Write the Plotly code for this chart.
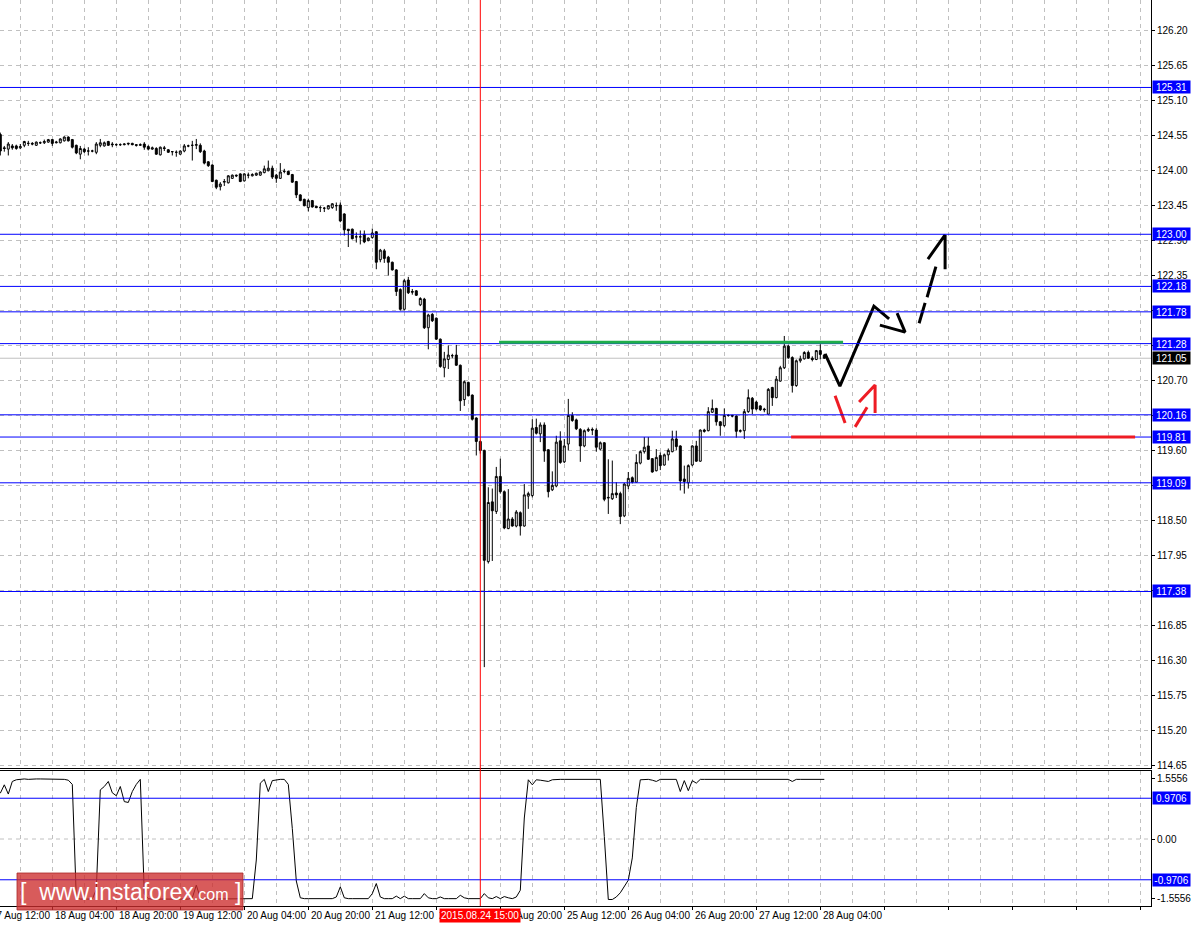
import plotly.graph_objects as go

# ---------------- data (H1 bars, index 0 = 2015.08.17 15:00, weekend skipped) ----------------
opens = [
    124.57, 124.36, 124.34, 124.39, 124.39, 124.36, 124.40, 124.43, 124.43, 124.40,
    124.44, 124.44, 124.45, 124.49, 124.44, 124.44, 124.47, 124.53, 124.49, 124.40,
    124.26, 124.34, 124.31, 124.31, 124.29, 124.40, 124.39, 124.46, 124.42, 124.41,
    124.41, 124.41, 124.42, 124.43, 124.41, 124.40, 124.42, 124.38, 124.34, 124.35,
    124.25, 124.36, 124.33, 124.30, 124.29, 124.26, 124.31, 124.39, 124.40, 124.40,
    124.40, 124.31, 124.14, 124.09, 123.85, 123.75, 123.82, 123.81, 123.88, 123.93,
    123.95, 123.84, 123.93, 123.92, 123.93, 123.93, 123.97, 124.00, 124.04, 123.93,
    123.88, 123.99, 123.99, 123.94, 123.83, 123.62, 123.55, 123.42, 123.53, 123.44,
    123.42, 123.41, 123.40, 123.42, 123.45, 123.46, 123.32, 123.08, 123.08, 122.96,
    122.96, 123.00, 122.90, 122.95, 123.04, 122.60, 122.74, 122.64, 122.56, 122.44,
    122.13, 121.82, 122.28, 122.10, 122.11, 121.89, 121.98, 121.53, 121.74, 121.68,
    121.35, 120.90, 121.03, 121.09, 121.10, 120.94, 120.40, 120.67, 120.47, 120.11,
    119.74, 119.60, 117.85, 118.79, 118.64, 119.19, 118.95, 118.37, 118.52, 118.41,
    118.62, 118.41, 118.88, 118.89, 119.96, 119.86, 120.00, 119.61, 118.98, 119.04,
    119.75, 119.42, 119.70, 120.15, 120.08, 119.93, 119.67, 119.91, 119.93, 119.92,
    119.62, 119.72, 118.85, 118.84, 118.93, 118.92, 118.57, 119.04, 119.17, 119.10,
    119.40, 119.58, 119.67, 119.47, 119.28, 119.52, 119.37, 119.53, 119.58, 119.78,
    119.67, 119.15, 119.09, 119.37, 119.67, 119.43, 119.92, 119.91, 120.20, 120.26,
    120.05, 119.99, 120.15, 120.15, 120.14, 119.90, 119.91, 120.21, 120.42, 120.36,
    120.30, 120.25, 120.17, 120.59, 120.43, 120.69, 120.90, 121.24, 121.06, 120.62,
    121.01, 121.04, 121.14, 121.05, 121.03, 121.17, 121.10,
]
highs = [
    124.60, 124.39, 124.45, 124.42, 124.41, 124.42, 124.47, 124.47, 124.45, 124.46,
    124.46, 124.49, 124.50, 124.50, 124.47, 124.51, 124.54, 124.54, 124.50, 124.41,
    124.39, 124.36, 124.37, 124.33, 124.45, 124.50, 124.46, 124.47, 124.45, 124.43,
    124.43, 124.43, 124.44, 124.44, 124.42, 124.43, 124.45, 124.40, 124.38, 124.37,
    124.38, 124.39, 124.34, 124.31, 124.32, 124.32, 124.42, 124.41, 124.47, 124.50,
    124.43, 124.33, 124.15, 124.10, 123.86, 123.82, 123.87, 123.93, 123.94, 123.94,
    123.96, 123.96, 123.97, 123.96, 123.97, 123.99, 124.08, 124.16, 124.08, 123.95,
    124.12, 124.03, 124.00, 123.95, 123.84, 123.63, 123.56, 123.56, 123.54, 123.45,
    123.45, 123.43, 123.46, 123.49, 123.50, 123.50, 123.33, 123.08, 123.09, 123.03,
    123.06, 123.06, 122.95, 123.09, 123.05, 122.77, 122.77, 122.66, 122.57, 122.45,
    122.15, 122.30, 122.33, 122.14, 122.12, 122.01, 122.00, 121.75, 121.76, 121.69,
    121.36, 121.15, 121.25, 121.12, 121.26, 120.95, 120.70, 120.68, 120.48, 120.12,
    119.76, 119.61, 119.02, 119.00, 119.34, 119.47, 118.97, 118.99, 118.55, 118.66,
    118.64, 119.07, 118.95, 120.09, 120.10, 120.04, 120.04, 119.62, 119.27, 119.83,
    119.90, 119.78, 120.41, 120.20, 120.10, 119.95, 119.93, 119.96, 119.96, 119.95,
    119.74, 119.73, 119.46, 119.44, 119.10, 118.95, 119.09, 119.26, 119.19, 119.54,
    119.60, 119.81, 119.81, 119.48, 119.62, 119.57, 119.55, 119.63, 119.91, 119.91,
    119.68, 119.36, 119.38, 119.68, 119.75, 119.93, 119.94, 120.28, 120.40, 120.27,
    120.06, 120.26, 120.17, 120.16, 120.15, 119.93, 120.25, 120.56, 120.44, 120.38,
    120.31, 120.27, 120.58, 120.60, 120.77, 120.93, 121.40, 121.26, 121.08, 121.03,
    121.09, 121.16, 121.17, 121.08, 121.18, 121.27, 121.12,
]
lows = [
    124.24, 124.30, 124.24, 124.33, 124.33, 124.34, 124.37, 124.39, 124.40, 124.39,
    124.42, 124.42, 124.44, 124.39, 124.43, 124.43, 124.46, 124.46, 124.35, 124.26,
    124.18, 124.28, 124.24, 124.29, 124.26, 124.37, 124.38, 124.39, 124.37, 124.39,
    124.39, 124.40, 124.40, 124.40, 124.38, 124.39, 124.33, 124.32, 124.33, 124.25,
    124.24, 124.31, 124.28, 124.24, 124.22, 124.25, 124.29, 124.37, 124.16, 124.34,
    124.28, 124.10, 124.06, 123.82, 123.71, 123.69, 123.76, 123.80, 123.87, 123.90,
    123.82, 123.83, 123.88, 123.91, 123.92, 123.92, 123.96, 123.99, 123.87, 123.81,
    123.87, 123.96, 123.93, 123.81, 123.57, 123.52, 123.44, 123.36, 123.42, 123.41,
    123.35, 123.35, 123.39, 123.40, 123.37, 123.19, 122.98, 122.80, 122.92, 122.87,
    122.84, 122.86, 122.89, 122.93, 122.45, 122.56, 122.55, 122.35, 122.43, 122.03,
    121.80, 121.80, 122.06, 122.05, 122.03, 121.87, 121.51, 121.19, 121.62, 121.34,
    120.90, 120.75, 120.88, 121.05, 120.93, 120.22, 120.30, 120.45, 120.07, 119.52,
    119.55, 116.19, 117.82, 117.86, 118.60, 118.92, 118.36, 118.36, 118.40, 118.39,
    118.26, 118.40, 118.68, 118.86, 119.85, 119.73, 119.42, 118.86, 118.96, 119.02,
    119.39, 119.40, 119.60, 120.05, 119.92, 119.42, 119.65, 119.89, 119.84, 119.58,
    119.60, 118.80, 118.60, 118.82, 118.85, 118.44, 118.55, 118.99, 119.08, 119.09,
    119.38, 119.55, 119.45, 119.25, 119.27, 119.29, 119.36, 119.44, 119.57, 119.60,
    118.97, 118.92, 119.00, 119.35, 119.42, 119.42, 119.88, 119.90, 120.19, 119.99,
    119.83, 119.97, 120.13, 120.12, 119.80, 119.88, 119.78, 120.19, 120.17, 120.23,
    120.22, 120.20, 120.16, 120.30, 120.42, 120.68, 120.88, 121.04, 120.51, 120.60,
    120.98, 121.03, 121.04, 121.00, 121.02, 121.03, 121.04,
]
closes = [
    124.31, 124.35, 124.42, 124.36, 124.35, 124.38, 124.46, 124.43, 124.42, 124.45,
    124.44, 124.46, 124.49, 124.43, 124.45, 124.50, 124.53, 124.47, 124.37, 124.28,
    124.35, 124.30, 124.31, 124.31, 124.42, 124.44, 124.44, 124.40, 124.41, 124.41,
    124.41, 124.42, 124.43, 124.41, 124.40, 124.41, 124.37, 124.34, 124.36, 124.26,
    124.37, 124.35, 124.29, 124.30, 124.29, 124.31, 124.39, 124.39, 124.40, 124.41,
    124.30, 124.12, 124.08, 123.83, 123.74, 123.79, 123.83, 123.92, 123.93, 123.92,
    123.83, 123.95, 123.93, 123.94, 123.96, 123.98, 124.03, 124.04, 123.90, 123.88,
    123.98, 123.99, 123.94, 123.82, 123.62, 123.53, 123.45, 123.53, 123.43, 123.42,
    123.42, 123.41, 123.45, 123.48, 123.45, 123.21, 123.07, 123.06, 122.93, 122.96,
    122.96, 122.88, 122.94, 123.02, 122.56, 122.75, 122.62, 122.56, 122.44, 122.10,
    121.82, 122.27, 122.08, 122.09, 122.04, 121.99, 121.53, 121.73, 121.64, 121.35,
    120.92, 121.04, 121.10, 121.09, 120.94, 120.38, 120.68, 120.46, 120.09, 119.74,
    119.60, 117.87, 118.78, 118.65, 119.19, 118.95, 118.38, 118.52, 118.41, 118.63,
    118.41, 118.90, 118.92, 119.95, 119.87, 120.00, 119.59, 118.95, 119.05, 119.73,
    119.41, 119.67, 120.15, 120.07, 119.94, 119.67, 119.91, 119.93, 119.92, 119.65,
    119.72, 118.83, 118.86, 118.92, 118.90, 118.56, 119.07, 119.16, 119.10, 119.41,
    119.58, 119.65, 119.46, 119.26, 119.49, 119.36, 119.53, 119.60, 119.78, 119.66,
    119.12, 119.11, 119.36, 119.67, 119.43, 119.92, 119.90, 120.21, 120.26, 120.05,
    119.99, 120.15, 120.15, 120.14, 119.90, 119.91, 120.21, 120.43, 120.25, 120.25,
    120.24, 120.24, 120.56, 120.43, 120.72, 120.90, 121.24, 121.06, 120.62, 121.01,
    121.04, 121.14, 121.05, 121.03, 121.17, 121.11, 121.05,
]
oscillator = [
    1.09, 1.29, 1.07, 1.37, 1.41, 1.42, 1.43, 1.42, 1.43, 1.43,
    1.43, 1.43, 1.43, 1.43, 1.43, 1.43, 1.42, 1.40, 1.30, -1.40,
    -1.43, -1.43, -1.43, -1.43, -1.20, 1.17, 1.25, 1.37, 1.10, 1.03,
    1.25, 0.89, 0.87, 1.13, 1.30, 1.42, -1.30, -1.42, -1.43, -1.43,
    -1.43, -1.43, -1.43, -1.43, -1.43, -1.43, -1.43, -1.43, -1.40, -1.10,
    -1.40, -1.43, -1.43, -1.43, -1.43, -1.43, -1.43, -1.43, -1.43, -1.43,
    -1.43, -1.43, -1.43, -1.42, -0.50, 1.33, 1.42, 1.13, 1.39, 1.41,
    1.42, 1.42, 1.30, 0.25, -1.00, -1.40, -1.42, -1.42, -1.42, -1.42,
    -1.42, -1.42, -1.42, -1.42, -1.38, -1.14, -1.40, -1.42, -1.42, -1.42,
    -1.42, -1.42, -1.42, -1.30, -1.06, -1.38, -1.42, -1.42, -1.42, -1.36,
    -1.42, -1.36, -1.42, -1.42, -1.42, -1.42, -1.30, -1.40, -1.42, -1.42,
    -1.38, -1.42, -1.42, -1.42, -1.42, -1.34, -1.40, -1.42, -1.42, -1.42,
    -1.42, -1.30, -1.40, -1.42, -1.37, -1.42, -1.37, -1.40, -1.42, -1.38,
    -1.22, 0.50, 1.41, 1.29, 1.41, 1.40, 1.39, 1.37, 1.41, 1.42,
    1.42, 1.42, 1.42, 1.42, 1.42, 1.42, 1.42, 1.42, 1.42, 1.42,
    1.42, 0.06, -1.44, -1.44, -1.38, -1.28, -1.13, -0.98, -0.45, 0.75,
    1.41, 1.42, 1.42, 1.40, 1.37, 1.42, 1.42, 1.42, 1.42, 1.42,
    1.13, 1.39, 1.15, 1.39, 1.33, 1.42, 1.42, 1.42, 1.42, 1.42,
    1.42, 1.42, 1.42, 1.42, 1.42, 1.42, 1.42, 1.42, 1.41, 1.42,
    1.42, 1.42, 1.42, 1.42, 1.42, 1.42, 1.42, 1.42, 1.37, 1.42,
    1.42, 1.42, 1.42, 1.42, 1.42, 1.42, 1.42,
]
bars = list(range(len(closes)))

# time axis labels (bar index -> label)
time_tick_bars = [-3, 13, 29, 45, 61, 77, 93, 109, 125, 141, 157, 173, 189, 205]
time_tick_text = ["17 Aug 12:00", "18 Aug 04:00", "18 Aug 20:00", "19 Aug 12:00",
                  "20 Aug 04:00", "20 Aug 20:00", "21 Aug 12:00", "24 Aug 04:00",
                  "24 Aug 20:00", "25 Aug 12:00", "26 Aug 04:00", "26 Aug 20:00",
                  "27 Aug 12:00", "28 Aug 04:00"]

# horizontal levels
levels = [125.31, 123.00, 122.18, 121.78, 121.28, 120.16, 119.81, 119.09, 117.38]
bid_price = 121.05
osc_levels = [0.9706, -0.9706]
osc_scale_labels = ["1.5556", "0.00", "-1.5556"]
event_bar = 120
event_text = "2015.08.24 15:00"

# hand-drawn objects (bar index, price)
green_line = [(124.7, 121.30), (210.7, 121.30)]
red_line = [(197.7, 119.81), (283.7, 119.81)]
black_path = [(206.2, 121.12), (209.9, 120.61), (218.4, 121.87), (222.2, 121.67)]
black_head = [(219.9, 121.57), (226.2, 121.46), (224.2, 121.76)]
black_dashes = [[(229.7, 121.60), (231.2, 121.92)], [(231.7, 122.01), (233.9, 122.49)]]
black_head2 = [(231.9, 122.61), (236.2, 122.99), (236.2, 122.45)]
red_dashes = [[(208.7, 120.46), (211.2, 120.03)], [(213.7, 119.97), (216.7, 120.28)]]
red_head = [(214.7, 120.36), (218.7, 120.63), (218.7, 120.19)]

# ---------------- figure ----------------
FONT = "Liberation Sans, Arial, sans-serif"
GRID = "#c0c0c0"
BLUE = "#0000ff"
X_RANGE = [-0.075, 287.675]

fig = go.Figure()
fig.add_trace(go.Candlestick(
    x=bars, open=opens, high=highs, low=lows, close=closes,
    increasing=dict(line=dict(color="black", width=1), fillcolor="white"),
    decreasing=dict(line=dict(color="black", width=1), fillcolor="black"),
    whiskerwidth=0, xaxis="x", yaxis="y", hoverinfo="skip", showlegend=False))

fig.add_trace(go.Scatter(x=bars, y=oscillator, mode="lines",
                         line=dict(color="black", width=1),
                         xaxis="x2", yaxis="y2", hoverinfo="skip", showlegend=False))


def segs(list_of_paths):
    xs, ys = [], []
    for path in list_of_paths:
        for (a, b) in path:
            xs.append(a)
            ys.append(b)
        xs.append(None)
        ys.append(None)
    return xs, ys


for paths, color in [([black_path, black_head] + black_dashes + [black_head2], "black"),
                     (red_dashes + [red_head], "#ee1c24")]:
    xs, ys = segs(paths)
    fig.add_trace(go.Scatter(x=xs, y=ys, mode="lines", line=dict(color=color, width=3),
                             xaxis="x", yaxis="y", hoverinfo="skip", showlegend=False))

shapes = []
for lv in levels:
    shapes.append(dict(type="line", xref="x domain", yref="y", x0=0, x1=1, y0=lv, y1=lv,
                       line=dict(color=BLUE, width=1), layer="above"))
shapes.append(dict(type="line", xref="x domain", yref="y", x0=0, x1=1, y0=bid_price, y1=bid_price,
                   line=dict(color=GRID, width=1), layer="below"))
for lv in osc_levels:
    shapes.append(dict(type="line", xref="x2 domain", yref="y2", x0=0, x1=1, y0=lv, y1=lv,
                       line=dict(color=BLUE, width=1), layer="above"))
shapes.append(dict(type="line", xref="x2 domain", yref="y2", x0=0, x1=1, y0=0, y1=0,
                   line=dict(color=GRID, width=1, dash="4px,4px"), layer="below"))
for seg, col in [(green_line, "#1fae4b"), (red_line, "#ee1c24")]:
    shapes.append(dict(type="line", xref="x", yref="y", x0=seg[0][0], x1=seg[1][0],
                       y0=seg[0][1], y1=seg[1][1], line=dict(color=col, width=3), layer="above"))
shapes.append(dict(type="line", xref="x", yref="paper", x0=event_bar, x1=event_bar, y0=0, y1=1,
                   line=dict(color="#ff0000", width=1), layer="above"))
# watermark box
shapes.append(dict(type="rect", xref="paper", yref="paper", x0=17 / 1151, x1=243 / 1151,
                   y0=-4 / 906, y1=33 / 906, fillcolor="rgba(205,45,45,0.78)",
                   line=dict(color="rgba(170,40,40,0.8)", width=1), layer="above"))

annotations = []
for lv in levels:
    annotations.append(dict(x=1, xref="paper", y=lv, yref="y", text=f"{lv:.2f}",
                            xanchor="left", yanchor="middle", xshift=1, showarrow=False,
                            bgcolor=BLUE, font=dict(color="white", size=10, family=FONT),
                            width=35, height=10, borderpad=1, align="center"))
annotations.append(dict(x=1, xref="paper", y=bid_price, yref="y", text=f"{bid_price:.2f}",
                        xanchor="left", yanchor="middle", xshift=1, showarrow=False,
                        bgcolor="black", font=dict(color="white", size=10, family=FONT),
                        width=35, height=10, borderpad=1, align="center"))
for lv in osc_levels:
    annotations.append(dict(x=1, xref="paper", y=lv, yref="y2", text=f"{lv:.4f}",
                            xanchor="left", yanchor="middle", xshift=1, showarrow=False,
                            bgcolor=BLUE, font=dict(color="white", size=10, family=FONT),
                            width=35, height=10, borderpad=1, align="center"))
for b, t in zip(time_tick_bars, time_tick_text):
    if X_RANGE[0] <= b <= X_RANGE[1]:
        pos = dict(x=b, xref="x2")
    else:  # label of a bar left of the visible window: place in paper units
        pos = dict(x=(b - X_RANGE[0]) / (X_RANGE[1] - X_RANGE[0]), xref="paper")
    annotations.append(dict(**pos, y=0, yref="paper", text=t, xanchor="left",
                            yanchor="top", yshift=-2, xshift=1, showarrow=False,
                            font=dict(size=10, family=FONT, color="black")))
annotations.append(dict(x=event_bar, xref="x2", y=0, yref="paper", text=event_text,
                        xanchor="center", yanchor="top", yshift=-2, showarrow=False,
                        bgcolor="#ff0000", borderpad=1,
                        font=dict(size=10, family=FONT, color="white")))
annotations.append(dict(x=130 / 1151, xref="paper", y=14.5 / 906, yref="paper",
                        text="[  www.instaforex<span style='font-size:16px'>.com</span> ]",
                        xanchor="center", yanchor="middle", showarrow=False,
                        font=dict(size=23, family=FONT, color="white")))

fig.update_layout(
    width=1192, height=925,
    margin=dict(l=0, r=41, t=0, b=19),
    paper_bgcolor="white", plot_bgcolor="white",
    showlegend=False, hovermode=False,
    font=dict(family=FONT, size=10, color="black"),
    shapes=shapes, annotations=annotations,
    xaxis=dict(domain=[0, 1], range=X_RANGE, anchor="y", showticklabels=False,
               ticks="", tick0=5, dtick=8, showgrid=True, gridcolor=GRID, griddash="4px,4px",
               zeroline=False, showline=True, linecolor="black", linewidth=1,
               rangeslider=dict(visible=False)),
    yaxis=dict(domain=[138 / 906, 1], range=[114.603, 126.686], anchor="x", side="right",
               tick0=114.65, dtick=0.55, tickformat=".2f", ticks="outside", ticklen=3,
               tickcolor="black", showgrid=True, gridcolor=GRID, griddash="4px,4px",
               zeroline=False, showline=True, linecolor="black", linewidth=1,
               tickfont=dict(size=10, family=FONT, color="black")),
    xaxis2=dict(domain=[0, 1], anchor="y2", matches="x", showticklabels=False,
                ticks="outside", ticklen=3, tickcolor="black", tick0=-3, dtick=16,
                showgrid=True, gridcolor=GRID, griddash="4px,4px",
                minor=dict(tick0=5, dtick=8, showgrid=True, gridcolor=GRID,
                           griddash="4px,4px", ticks=""),
                zeroline=False, showline=True, mirror=True, linecolor="black", linewidth=1),
    yaxis2=dict(domain=[0, 135 / 906], range=[-1.595, 1.619], anchor="x2", side="right",
                tickvals=[1.452, 0, -1.405], ticktext=osc_scale_labels, ticks="outside",
                ticklen=3, tickcolor="black", showgrid=False, zeroline=False,
                showline=True, linecolor="black", linewidth=1,
                tickfont=dict(size=10, family=FONT, color="black")),
)

fig.write_html("out.html", config={"displayModeBar": False, "staticPlot": True},
               post_script="document.body.style.margin='0';document.body.style.padding='0';"
                           "document.body.style.overflow='hidden';")
